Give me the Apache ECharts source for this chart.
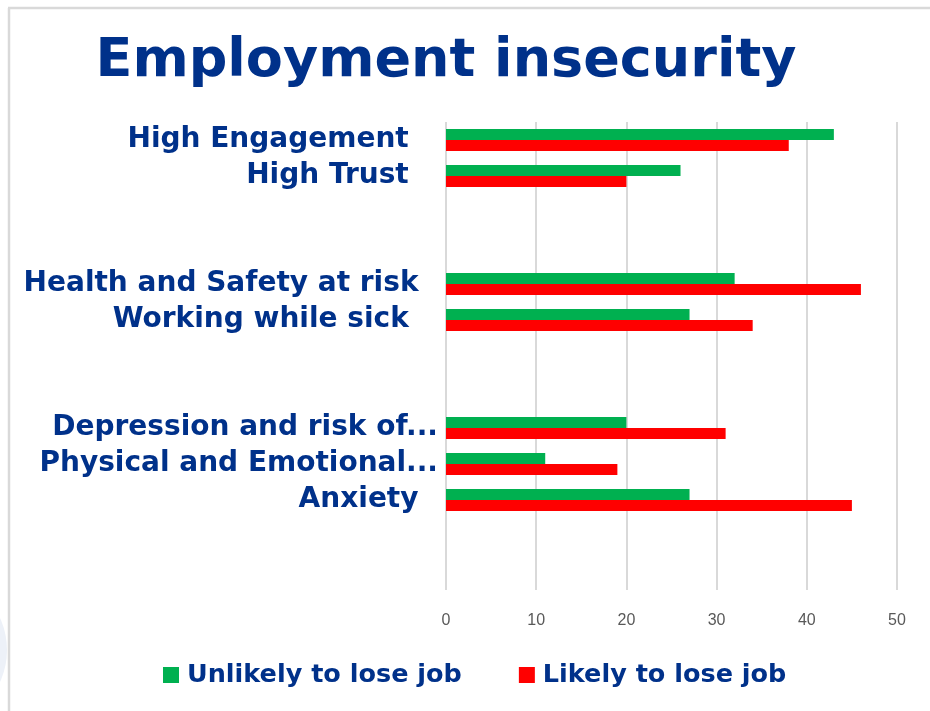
<!DOCTYPE html>
<html>
<head>
<meta charset="utf-8">
<title>Employment insecurity</title>
<script src="https://cdn.jsdelivr.net/npm/echarts@6/dist/echarts.min.js"></script>
<style>
  html, body { margin: 0; padding: 0; background: #ffffff; }
  #chart { width: 930px; height: 711px; }
</style>
</head>
<body>
<div id="chart"></div>
<script>
// Outcome categories, top to bottom; empty names leave gaps between groups
const categories = [
  'High Engagement   ',
  'High Trust   ',
  '', '',
  'Health and Safety at risk  ',
  'Working while sick   ',
  '', '',
  'Depression and risk of...',
  'Physical and Emotional...',
  'Anxiety  ',
  '', ''
];

// Percentages per category (null where the row is a spacer)
const unlikelyToLoseJob = [43, 26, null, null, 32, 27, null, null, 20, 11, 27, null, null];
const likelyToLoseJob   = [38, 20, null, null, 46, 34, null, null, 31, 19, 45, null, null];

const seriesNames = ['Unlikely to lose job', 'Likely to lose job'];
const xTicks = [0, 10, 20, 30, 40, 50];

const navy = '#00318A';
const labelFont = '"DejaVu Sans", "Noto Sans", sans-serif';

const chart = echarts.init(document.getElementById('chart'), null, { renderer: 'canvas' });

chart.setOption({
  backgroundColor: '#ffffff',
  animation: false,
  title: {
    text: 'Employment insecurity',
    left: 441,
    textAlign: 'center',
    top: 30,
    textStyle: {
      fontFamily: labelFont,
      fontSize: 54,
      fontWeight: 'bold',
      color: navy
    }
  },
  legend: {
    data: seriesNames,
    top: 657,
    left: 158,
    itemWidth: 16,
    itemHeight: 16,
    itemGap: 57,
    icon: 'rect',
    textStyle: {
      fontFamily: labelFont,
      fontSize: 25.5,
      fontWeight: 'bold',
      color: navy,
      padding: [0, 0, 0, 3]
    }
  },
  grid: {
    left: 446,
    right: 33,
    top: 122,
    bottom: 121,
    containLabel: false
  },
  xAxis: {
    type: 'value',
    min: xTicks[0],
    max: xTicks[xTicks.length - 1],
    interval: xTicks[1] - xTicks[0],
    axisLine: { show: false },
    axisTick: { show: false },
    axisLabel: {
      margin: 23,
      fontFamily: '"Liberation Sans", "DejaVu Sans", sans-serif',
      fontSize: 16,
      color: '#595959'
    },
    splitLine: { show: true, lineStyle: { color: '#d9d9d9', width: 2 } }
  },
  yAxis: {
    type: 'category',
    inverse: true,
    data: categories,
    axisLine: { show: false },
    axisTick: { show: false },
    axisLabel: {
      interval: 0,
      margin: 8,
      fontFamily: labelFont,
      fontSize: 28,
      fontWeight: 'bold',
      color: navy
    }
  },
  series: [
    {
      name: seriesNames[0],
      type: 'bar',
      data: unlikelyToLoseJob,
      barWidth: 11,
      barGap: '0%',
      itemStyle: { color: '#00B050' }
    },
    {
      name: seriesNames[1],
      type: 'bar',
      data: likelyToLoseJob,
      barWidth: 11,
      barGap: '0%',
      itemStyle: { color: '#FF0000' }
    }
  ],
  graphic: [
    // frame: top and left edges
    {
      type: 'line',
      shape: { x1: 8, y1: 8, x2: 930, y2: 8 },
      style: { stroke: '#d9d9d9', lineWidth: 2.5 }
    },
    {
      type: 'line',
      shape: { x1: 9, y1: 8, x2: 9, y2: 711 },
      style: { stroke: '#d9d9d9', lineWidth: 2.5 }
    },
    // faint backdrop shape at the lower left edge
    {
      type: 'circle',
      shape: { cx: -70, cy: 650, r: 77 },
      style: { fill: '#edf1f8' },
      z: -1
    }
  ]
});
</script>
</body>
</html>
